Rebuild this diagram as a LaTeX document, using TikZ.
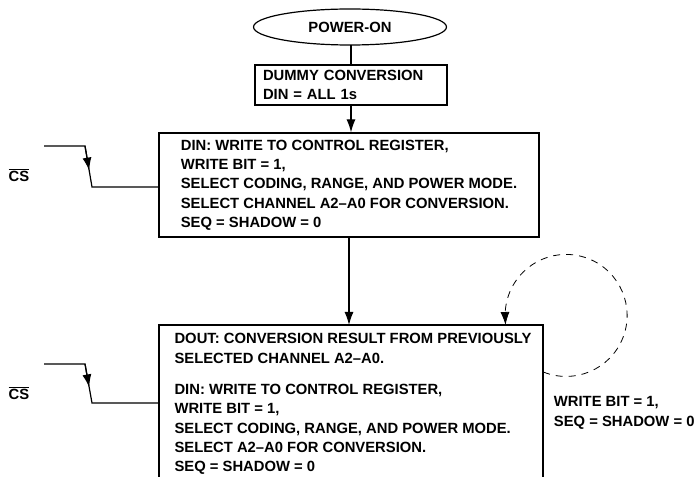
\documentclass[tikz,border=0pt]{standalone}
\usepackage{fontspec}
\setmainfont{Liberation Sans}
\usetikzlibrary{shapes.geometric,arrows.meta,calc}

\begin{document}
\begin{tikzpicture}[x=1pt,y=1pt,line width=1.2pt,
	txt/.style={font=\bfseries\fontsize{14.8}{19.3}\selectfont,align=left},
	box/.style={draw,txt,inner sep=0pt},
	flow/.style={-{Latex[length=13pt,width=9pt]}},
	loopline/.style={line width=0.8pt,dash pattern=on 7pt off 6pt,-{Latex[length=13pt,width=9pt]}}]
				\useasboundingbox (0,0) rectangle (697,477);
				\coordinate(bot) at (0,0);

				% flow boxes
				\node[ellipse,draw,txt,minimum width=193,minimum height=36,inner sep=0pt](pwr) at (350,450){POWER-ON};
				\node[box,text width=176,inner xsep=8,minimum height=40](dummy) at (351,392){DUMMY CONVERSION\\DIN = ALL 1s};
				\node[box,minimum width=380,minimum height=104](wr) at (349,292){DIN: WRITE TO CONTROL REGISTER,\\WRITE BIT = 1,\\SELECT CODING, RANGE, AND POWER MODE.\\SELECT CHANNEL A2--A0 FOR CONVERSION.\\SEQ = SHADOW = 0};
				\node[txt,minimum width=370,inner ysep=8pt,anchor=north](conv) at (353,152){DOUT: CONVERSION RESULT FROM PREVIOUSLY\\SELECTED CHANNEL A2--A0.\\[12pt]DIN: WRITE TO CONTROL REGISTER,\\WRITE BIT = 1,\\SELECT CODING, RANGE, AND POWER MODE.\\SELECT A2--A0 FOR CONVERSION.\\SEQ = SHADOW = 0};
				\coordinate(cl) at (159,152);
				\coordinate(cr) at (543,152);
				\draw (cl |- bot)--(cl)--(cr)--(cr |- bot);

				\draw (pwr.south)--(dummy.south |- pwr.south) -- (dummy.north);
				\draw[flow] (dummy.south)--(dummy.south |- wr.north);
				\draw[flow] (wr.south)--(wr.south |- cl);

				% repeat loop
				\coordinate(lc) at (566.5,162.5);
				\coordinate(lw) at ($(lc)+(-61,0)$);
				\draw[loopline] ($(lc)+(248:62)$) arc[start angle=248,end angle=540,radius=61]--(lw |- cl);
				\node[txt,anchor=west](seq) at (550,64){WRITE BIT = 1,\\SEQ = SHADOW = 0};

				% CS edges
				\coordinate(csa) at (44,331);
				\coordinate(csb) at (85,331);
				\coordinate(csc) at (92,290);
				\draw (csa)--(csb)--(csc)--(csc -| wr.west);
				\draw[flow] (csb)--($(csb)!0.6!(csc)$);
				\node[txt](cs1) at (19,302){$\overline{\mbox{CS}}$};

				\coordinate(csd) at (44,113);
				\coordinate(cse) at (85,113);
				\coordinate(csf) at (92,74);
				\draw (csd)--(cse)--(csf)--(csf -| cl);
				\draw[flow] (cse)--($(cse)!0.6!(csf)$);
				\node[txt](cs2) at (19,84){$\overline{\mbox{CS}}$};
			\end{tikzpicture}
\end{document}
